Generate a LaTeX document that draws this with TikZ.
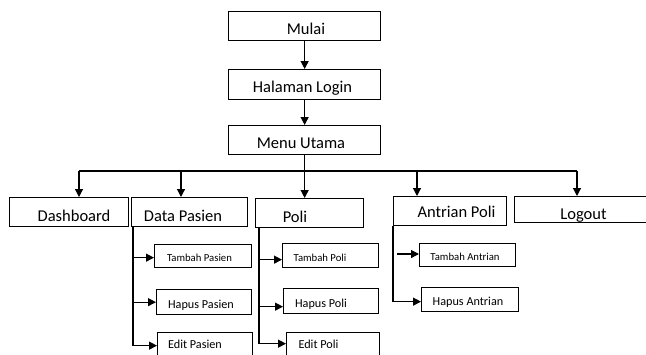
\documentclass[tikz,border=0pt]{standalone}
\usepackage{fontspec}
\setmainfont{Carlito}
\usetikzlibrary{arrows.meta}

\begin{document}
\begin{tikzpicture}[x=1pt, y=-1pt,
  every node/.style={inner sep=0pt},
  box/.style={draw, line width=1.3pt, anchor=north west},
  lbl/.style={anchor=base},
  bigtxt/.style={lbl, font=\fontsize{16.5}{18}\selectfont},
  subtxt/.style={lbl, font=\fontsize{10.7}{12}\selectfont},
  midtxt/.style={lbl, font=\fontsize{12.2}{14}\selectfont},
  line/.style={line width=1.2pt},
  arr/.style={line, -{Triangle[length=8pt,width=8pt]}},
]
\useasboundingbox (0,0) rectangle (646,354);

% top of the menu
\node[box, minimum width=152pt, minimum height=29pt] at (228,11)  (mulai) {};
\node[box, minimum width=152pt, minimum height=30pt] at (228,69)  (login) {};
\node[box, minimum width=152pt, minimum height=29pt] at (228,125) (menu)  {};

% main menu items
\node[box, minimum width=119pt, minimum height=29pt] at (9,197)   (dash)    {};
\node[box, minimum width=116pt, minimum height=29pt] at (131,197) (pasien)  {};
\node[box, minimum width=108pt, minimum height=29pt] at (255,198) (poli)    {};
\node[box, minimum width=113pt, minimum height=29pt] at (393,196) (antrian) {};
\node[box, minimum width=140pt, minimum height=26pt] at (514,196) (logout)  {};

% sub menus
\node[box, minimum width=97pt, minimum height=23pt] at (154,244) (tpasien)  {};
\node[box, minimum width=95pt, minimum height=25pt] at (156,289) (hpasien)  {};
\node[box, minimum width=95pt, minimum height=26pt] at (157,332) (epasien)  {};
\node[box, minimum width=96pt, minimum height=24pt] at (282,243) (tpoli)    {};
\node[box, minimum width=95pt, minimum height=25pt] at (283,288) (hpoli)    {};
\node[box, minimum width=93pt, minimum height=26pt] at (286,332) (epoli)    {};
\node[box, minimum width=96pt, minimum height=23pt] at (419,243) (tantrian) {};
\node[box, minimum width=97pt, minimum height=24pt] at (421,287) (hantrian) {};

% texts
\node[bigtxt] at (306,34)    (tmulai)   {Mulai};
\node[bigtxt] at (302.5,92)  (tlogin)   {Halaman Login};
\node[bigtxt] at (301,148)   (tmenu)    {Menu Utama};
\node[bigtxt] at (74,221)    (tdash)    {Dashboard};
\node[bigtxt] at (183,221)   (tpas)     {Data Pasien};
\node[bigtxt] at (295,222)   (tpol)     {Poli};
\node[bigtxt] at (456.5,217) (tant)     {Antrian Poli};
\node[bigtxt] at (583.5,219) (tlogout)  {Logout};
\node[subtxt] at (199.5,261) (ttpasien) {Tambah Pasien};
\node[midtxt] at (201,308)   (thpasien) {Hapus Pasien};
\node[midtxt] at (195,348)   (tepasien) {Edit Pasien};
\node[subtxt] at (320,261)   (ttpoli)   {Tambah Poli};
\node[midtxt] at (321,307)   (thpoli)   {Hapus Poli};
\node[midtxt] at (318.5,348) (tepoli)   {Edit Poli};
\node[subtxt] at (465,260)   (ttantri)  {Tambah Antrian};
\node[midtxt] at (468,305)   (thantri)  {Hapus Antrian};

% bus line
\coordinate (busL) at (79,171);
\coordinate (busR) at (577,171);
\coordinate (busP) at (181,171);
\coordinate (busA) at (417,171);

\draw[arr] (mulai.south) -- (login.north);
\draw[arr] (login.south) -- (menu.north);
\draw[arr] (menu.south) -- (menu.south |- poli.north);
\draw[line] (busL) -- (busR);
\draw[arr] (busL) -- (busL |- dash.north);
\draw[arr] (busP) -- (busP |- pasien.north);
\draw[arr] (busA) -- (busA |- antrian.north);
\draw[arr] (busR) -- (busR |- logout.north);

% data pasien
\coordinate (pv) at ([xshift=2pt]pasien.south west);
\draw[line] (pv) -- (pv |- epasien.west);
\draw[arr] (pv |- tpasien.west) ++(0,1.5) -- ([yshift=-1.5pt]tpasien.west);
\draw[arr] (pv |- hpasien.west) -- (hpasien.west);
\draw[arr] (pv |- epasien.west) -- (epasien.west);

% poli
\coordinate (lv) at ([xshift=4pt]poli.south west);
\draw[line] (lv) -- ([yshift=2pt]lv |- epoli.west);
\draw[arr] ([yshift=-4pt]lv |- tpoli.west) -- ([yshift=-4pt]tpoli.west);
\draw[arr] ([yshift=-5.5pt]lv |- hpoli.west) -- ([yshift=-5.5pt]hpoli.west);
\draw[arr] ([yshift=2pt]lv |- epoli.west) -- ([yshift=2pt]epoli.west);

% antrian poli
\coordinate (av) at (antrian.south west);
\coordinate (aw) at (397,254);
\draw[line] (av) -- ([yshift=-2pt]av |- hantrian.west);
\draw[arr] (aw) -- (aw -| tantrian.west);
\draw[arr] ([yshift=-2pt]av |- hantrian.west) -- ([yshift=-2pt]hantrian.west);
\end{tikzpicture}
\end{document}
